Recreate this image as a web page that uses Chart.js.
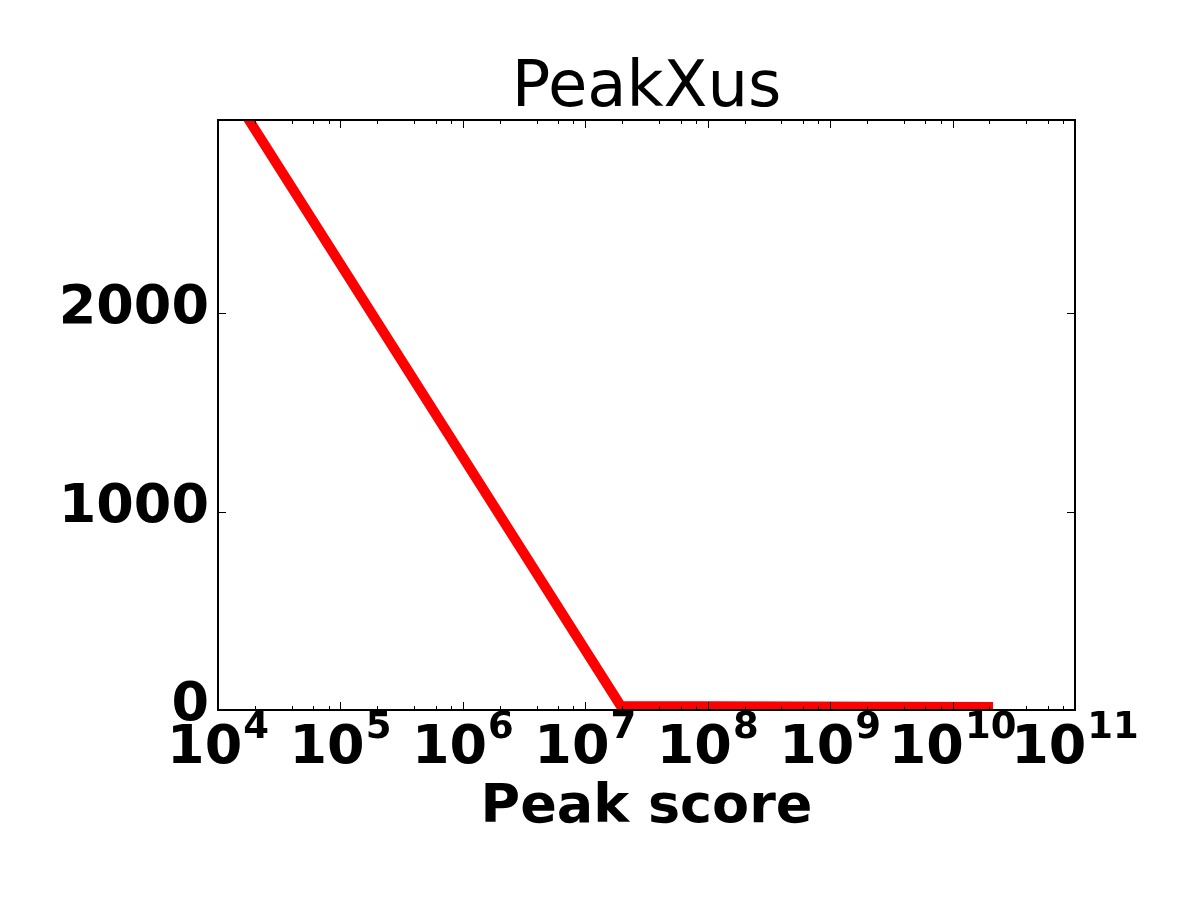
<!DOCTYPE html>
<html><head><meta charset="utf-8">
<script src="https://cdn.jsdelivr.net/npm/chart.js@4"></script>
<style>html,body{margin:0;padding:0;background:#fff;} #wrap{width:1200px;height:900px;}</style>
</head><body><div id="wrap"><canvas id="c" width="1200" height="900"></canvas></div>
<script>
const titleText = 'PeakXus';
const xAxisLabel = 'Peak score';
const peakScores = [1.79e4, 1.95e7, 1.95e10];
const peakCounts = [2975, 20, 15];
const xTickExponents = [4, 5, 6, 7, 8, 9, 10, 11];
const xMinorSubs = [2, 4, 6, 8];
const yTickValues = [0, 1000, 2000];
const yMin = 0, yMax = 2975;
const xMin = 1e4, xMax = 1e11;

const FONT = '"DejaVu Sans", sans-serif';

const framePlugin = {
  id: 'frameAndTicks',
  afterDraw(chart) {
    const {ctx, chartArea: a, scales: {x, y}} = chart;
    ctx.save();
    ctx.strokeStyle = '#000';
    ctx.lineWidth = 1;
    ctx.beginPath();
    const vtick = (val, len) => {
      const px = Math.round(x.getPixelForValue(val)) + 0.5;
      ctx.moveTo(px, a.bottom); ctx.lineTo(px, a.bottom - len);
      ctx.moveTo(px, a.top); ctx.lineTo(px, a.top + len);
    };
    xTickExponents.forEach((e, i) => {
      vtick(Math.pow(10, e), 8);
      if (i < xTickExponents.length - 1) xMinorSubs.forEach(s => vtick(s * Math.pow(10, e), 4));
    });
    yTickValues.forEach(v => {
      const py = Math.round(y.getPixelForValue(v)) + 0.5;
      ctx.moveTo(a.left, py); ctx.lineTo(a.left + 8, py);
      ctx.moveTo(a.right, py); ctx.lineTo(a.right - 8, py);
    });
    ctx.stroke();
    ctx.lineWidth = 2;
    ctx.strokeRect(a.left, a.top, a.right - a.left, a.bottom - a.top);
    // x tick labels with superscript exponents
    ctx.fillStyle = '#000';
    ctx.textBaseline = 'alphabetic';
    ctx.textAlign = 'left';
    xTickExponents.forEach(e => {
      const px = x.getPixelForValue(Math.pow(10, e));
      ctx.font = 'bold 54px ' + FONT;
      const wb = ctx.measureText('10').width;
      ctx.font = 'bold 37px ' + FONT;
      const we = ctx.measureText(String(e)).width;
      const gap = 1;
      const start = px - (wb + gap + we) / 2;
      ctx.font = 'bold 54px ' + FONT;
      ctx.fillText('10', start, a.bottom + 53);
      ctx.font = 'bold 37px ' + FONT;
      ctx.fillText(String(e), start + wb + gap, a.bottom + 28);
    });
    ctx.restore();
  }
};

new Chart(document.getElementById('c'), {
  type: 'line',
  data: {
    datasets: [{
      data: peakScores.map((v, i) => ({x: v, y: peakCounts[i]})),
      borderColor: '#ff0000',
      borderWidth: 10,
      pointRadius: 0,
      tension: 0,
      fill: false,
      clip: 0,
      borderJoinStyle: 'round',
      borderCapStyle: 'square'
    }]
  },
  options: {
    responsive: false,
    devicePixelRatio: 1,
    animation: false,
    layout: {padding: {left: 0, right: 125, top: 0, bottom: 0}},
    plugins: {
      legend: {display: false},
      tooltip: {enabled: false},
      title: {
        display: true, text: titleText, color: '#000', fullSize: false,
        font: {family: FONT, size: 64, weight: 'normal', lineHeight: 0.9},
        padding: {top: 61, bottom: 1.4}
      }
    },
    scales: {
      x: {
        type: 'logarithmic', min: xMin, max: xMax,
        grid: {display: false, drawTicks: false},
        border: {display: false},
        ticks: {display: false},
        afterBuildTicks: s => { s.ticks = xTickExponents.map(e => ({value: Math.pow(10, e)})); },
        afterFit: s => { s.height = 190; },
        title: {
          display: true, text: xAxisLabel, color: '#000',
          font: {family: FONT, size: 54, weight: 'bold', lineHeight: 1},
          padding: {top: 0, bottom: 65}
        }
      },
      y: {
        type: 'linear', min: yMin, max: yMax,
        grid: {display: false, drawTicks: false},
        border: {display: false},
        afterBuildTicks: s => { s.ticks = yTickValues.map(v => ({value: v})); },
        afterFit: s => { s.width = 218; },
        ticks: {
          color: '#000', padding: 9, labelOffset: -4,
          font: {family: FONT, size: 54, weight: 'bold'},
          callback: v => String(v)
        }
      }
    }
  },
  plugins: [framePlugin]
});
</script>
</body></html>
